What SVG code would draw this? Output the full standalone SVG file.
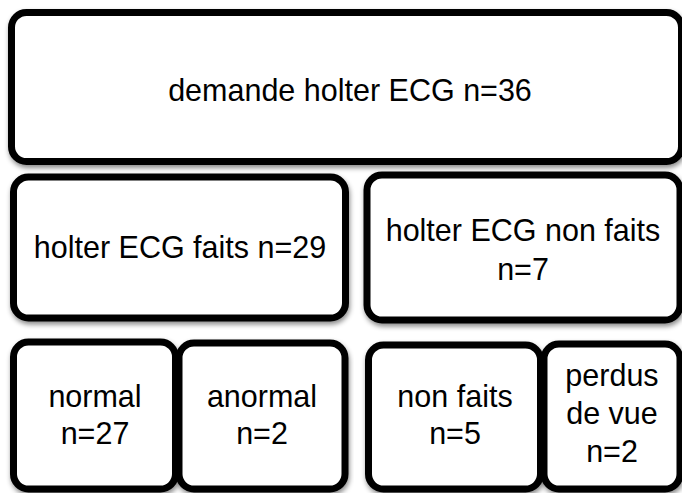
<svg xmlns="http://www.w3.org/2000/svg" width="682" height="493" viewBox="0 0 682 493">
  <defs>
    <filter id="shadow" x="-5%" y="-5%" width="110%" height="115%">
      <feDropShadow dx="1" dy="3" stdDeviation="2.5" flood-color="#000" flood-opacity="0.45"/>
    </filter>
  </defs>
  <style>
    .box { fill: #ffffff; stroke: #000000; stroke-width: 7; filter: url(#shadow); }
    .label { font-family: "Liberation Sans", Arial, sans-serif; font-size: 30.5px; fill: #000000; text-anchor: middle; }
  </style>
  <rect width="682" height="493" fill="#ffffff"/>

  <g id="demande">
    <rect class="box" x="11.5" y="12.5" width="670" height="149" rx="15"/>
    <text class="label" x="350" y="101">demande holter ECG n=36</text>
  </g>

  <g id="faits">
    <rect class="box" x="13.5" y="177" width="332" height="141" rx="15"/>
    <text class="label" x="180" y="258">holter ECG faits n=29</text>
  </g>

  <g id="non-faits-total">
    <rect class="box" x="367" y="175" width="313" height="145" rx="15"/>
    <text class="label" x="523" y="241">holter ECG non faits</text>
    <text class="label" x="523" y="280">n=7</text>
  </g>

  <g id="normal">
    <rect class="box" x="13.5" y="342" width="162" height="147" rx="15"/>
    <text class="label" x="95" y="407">normal</text>
    <text class="label" x="95" y="444">n=27</text>
  </g>

  <g id="anormal">
    <rect class="box" x="179" y="343" width="166" height="146" rx="15"/>
    <text class="label" x="262" y="407">anormal</text>
    <text class="label" x="262" y="444">n=2</text>
  </g>

  <g id="non-faits">
    <rect class="box" x="368.5" y="345" width="172" height="144" rx="15"/>
    <text class="label" x="455" y="407">non faits</text>
    <text class="label" x="455" y="444">n=5</text>
  </g>

  <g id="perdus">
    <rect class="box" x="544" y="344" width="136" height="145" rx="15"/>
    <text class="label" x="612" y="386">perdus</text>
    <text class="label" x="612" y="424">de vue</text>
    <text class="label" x="612" y="462">n=2</text>
  </g>

  <g id="connectors"/>
</svg>
